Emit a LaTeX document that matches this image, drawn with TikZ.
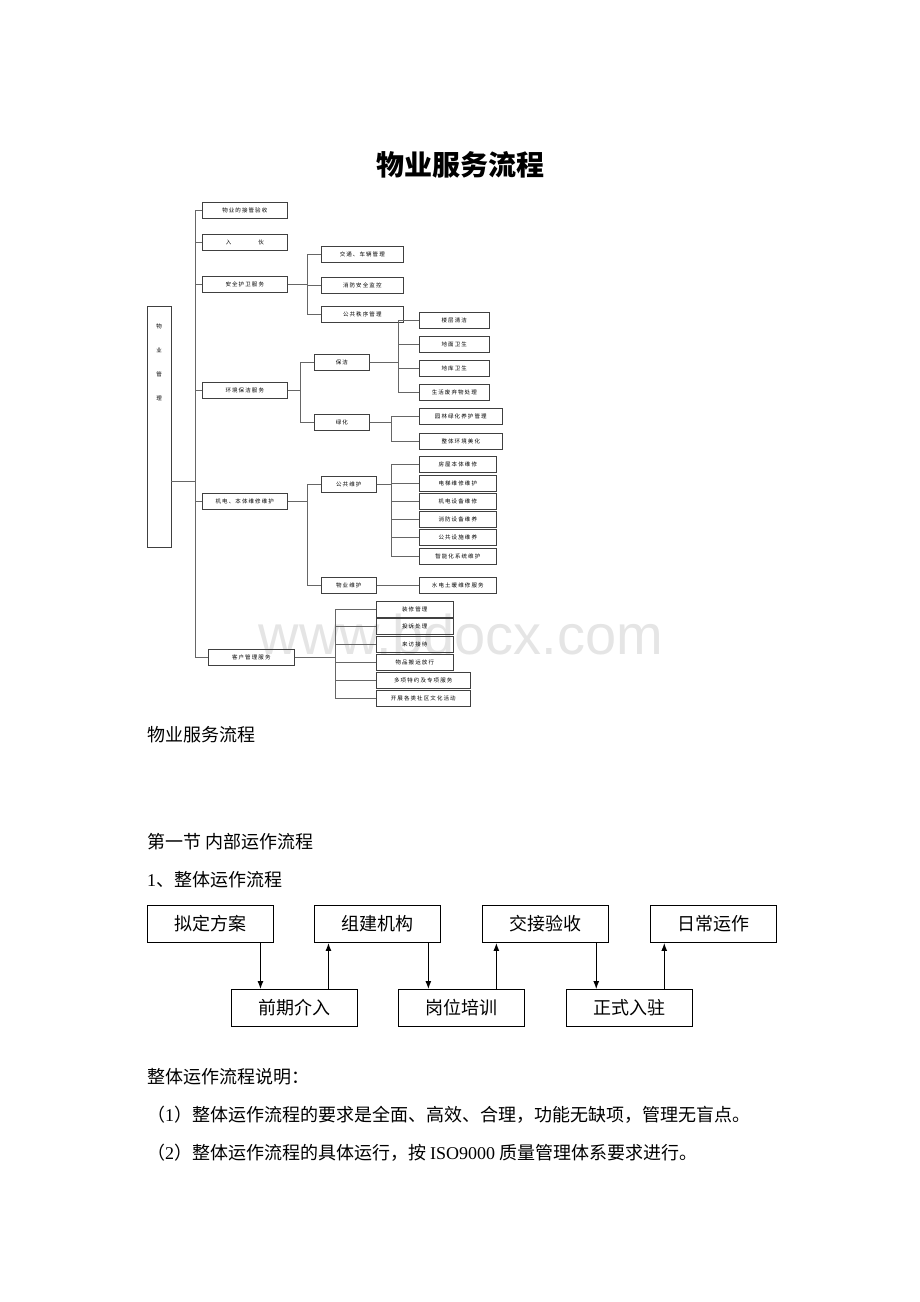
\documentclass[tikz,border=0pt]{standalone}
\usepackage{fontspec}
\setmainfont{Liberation Serif}
\newfontfamily\cjk{Noto Sans CJK SC}
\newfontfamily\cjksp[LetterSpace=20]{Noto Sans CJK SC}
\newfontfamily\wmfont{Liberation Sans}
\usepackage{tikz}
\usetikzlibrary{
	positioning,
	arrows.meta
}

\newcommand{\treefont}{\cjksp\fontsize{5.5}{7}\selectfont}
\newcommand{\mgmtfont}{\cjk\fontsize{5.5}{24}\selectfont}
\newcommand{\bodyfont}{\cjk\fontsize{18}{22}\selectfont}
\newcommand{\titlefont}{\cjk\bfseries\fontsize{28}{32}\selectfont}

\begin{document}
\begin{tikzpicture}[x=1pt,y=-1pt,
		tbox/.style={draw=black!75,line width=0.6pt,minimum height=16pt,inner sep=0pt,anchor=west,font=\treefont},
		tline/.style={draw=black!60,line width=0.6pt},
		fbox/.style={draw,line width=0.9pt,minimum width=126pt,minimum height=37pt,inner sep=0pt,font=\bodyfont},
		flow/.style={line width=1.1pt,-{Latex[length=8pt,width=6pt]}},
		para/.style={anchor=west,inner sep=0pt,font=\bodyfont}
	]
	\useasboundingbox (0,0) rectangle (920,1302);

	% watermark
	\node[text=black!10,font=\wmfont\fontsize{56}{60}\selectfont] (mark) at (461,634) {www.bdocx.com};

	\node[font=\titlefont] (title) at (460,165) {物业服务流程};

	% tree
	\node[draw=black!75,line width=0.6pt,minimum width=24pt,minimum height=241pt,inner sep=0pt,
		label={[anchor=north,inner sep=0pt,align=center,font=\mgmtfont,yshift=-18pt]north:物\\业\\管\\理}] (mgmt) at (159,426.5) {};

	\draw
		node[tbox,minimum width=85pt] (accept)   at (202,210) {物业的接管验收}
		node[tbox,minimum width=85pt] (movein)   at (202,242) {入\hspace{27pt}伙}
		node[tbox,minimum width=85pt] (security) at (202,284) {安全护卫服务}
		node[tbox,minimum width=85pt] (env)      at (202,390) {环境保洁服务}
		node[tbox,minimum width=85pt] (repair)   at (202,501) {机电、本体维修维护}
		node[tbox,minimum width=86pt] (client)   at (208,657) {客户管理服务}

		node[tbox,minimum width=82pt] (traffic)  at (321,254) {交通、车辆管理}
		node[tbox,minimum width=82pt] (fire)     at (321,285) {消防安全监控}
		node[tbox,minimum width=82pt] (order)    at (321,314) {公共秩序管理}

		node[tbox,minimum width=55pt] (clean)    at (314,362) {保洁}
		node[tbox,minimum width=55pt] (green)    at (314,422) {绿化}
		node[tbox,minimum width=70pt] (floor)    at (419,320) {楼层清洁}
		node[tbox,minimum width=70pt] (ground)   at (419,344) {地面卫生}
		node[tbox,minimum width=70pt] (garage)   at (419,368) {地库卫生}
		node[tbox,minimum width=70pt] (waste)    at (419,392) {生活废弃物处理}
		node[tbox,minimum width=83pt] (garden)   at (419,416) {园林绿化养护管理}
		node[tbox,minimum width=83pt] (beauty)   at (419,441) {整体环境美化}

		node[tbox,minimum width=55pt] (public)   at (321,484) {公共维护}
		node[tbox,minimum width=55pt] (propm)    at (321,585) {物业维护}
		node[tbox,minimum width=77pt] (house)    at (419,464) {房屋本体维修}
		node[tbox,minimum width=77pt] (lift)     at (419,483) {电梯维修维护}
		node[tbox,minimum width=77pt] (mech)     at (419,501) {机电设备维修}
		node[tbox,minimum width=77pt] (firedev)  at (419,519) {消防设备维养}
		node[tbox,minimum width=77pt] (facil)    at (419,537) {公共设施维养}
		node[tbox,minimum width=77pt] (smart)    at (419,556) {智能化系统维护}
		node[tbox,minimum width=77pt] (utility)  at (419,585) {水电土暖维修服务}

		node[tbox,minimum width=77pt] (deco)     at (376,609) {装修管理}
		node[tbox,minimum width=77pt] (complain) at (376,626) {投诉处理}
		node[tbox,minimum width=77pt] (visit)    at (376,644) {来访接待}
		node[tbox,minimum width=77pt] (move)     at (376,662) {物品搬运放行}
		node[tbox,minimum width=94pt] (special)  at (376,680) {多项特约及专项服务}
		node[tbox,minimum width=94pt] (culture)  at (376,698) {开展各类社区文化活动}
	;

	\coordinate (spine) at (195,481);
	\draw[tline] (spine -| mgmt.east) -- (spine);
	\foreach \n in {accept,movein,security,env,repair,client}
		\draw[tline] (spine) |- (\n.west);

	\foreach \p/\dx/\kids in {security/20/{traffic,fire,order},env/13/{clean,green},
			clean/29/{floor,ground,garage,waste},green/22/{garden,beauty},repair/20/{public,propm},
			public/15/{house,lift,mech,firedev,facil,smart},client/41/{deco,complain,visit,move,special,culture}}
		\foreach \k in \kids
			\draw[tline] (\p.east) -- ++(\dx,0) |- (\k.west);
	\draw[tline] (propm.east) -- (utility.west);

	% text
	\node[para] (body)  at (147,735)  {物业服务流程};
	\node[para] (sect)  at (147,842)  {第一节 内部运作流程};
	\node[para] (step)  at (147,880)  {{\rmfamily 1}、整体运作流程};
	\node[para] (note)  at (147,1077) {整体运作流程说明：};
	\node[para] (item1) at (147,1115) {（{\rmfamily 1}）整体运作流程的要求是全面、高效、合理，功能无缺项，管理无盲点。};
	\node[para] (item2) at (147,1153) {（{\rmfamily 2}）整体运作流程的具体运行，按 {\rmfamily ISO9000} 质量管理体系要求进行。};

	% flow
	\node[fbox] (plan) at (210,924) {拟定方案};
	\node[fbox,right=41pt of plan] (team) {组建机构};
	\node[fbox,right=41pt of team] (handover) {交接验收};
	\node[fbox,right=41pt of handover] (daily) {日常运作};
	\node[fbox] (early) at (294,1008) {前期介入};
	\node[fbox,right=41pt of early] (train) {岗位培训};
	\node[fbox,right=41pt of train] (settle) {正式入驻};

	\foreach \u/\l in {plan/early,team/train,handover/settle} {
		\coordinate (d) at ([xshift=-13pt]\u.south east);
		\draw[flow] (d) -- (d |- \l.north);
	}
	\foreach \l/\u in {early/team,train/handover,settle/daily} {
		\coordinate (d) at ([xshift=14pt]\u.south west);
		\draw[flow] (d |- \l.north) -- (d);
	}
\end{tikzpicture}
\end{document}
